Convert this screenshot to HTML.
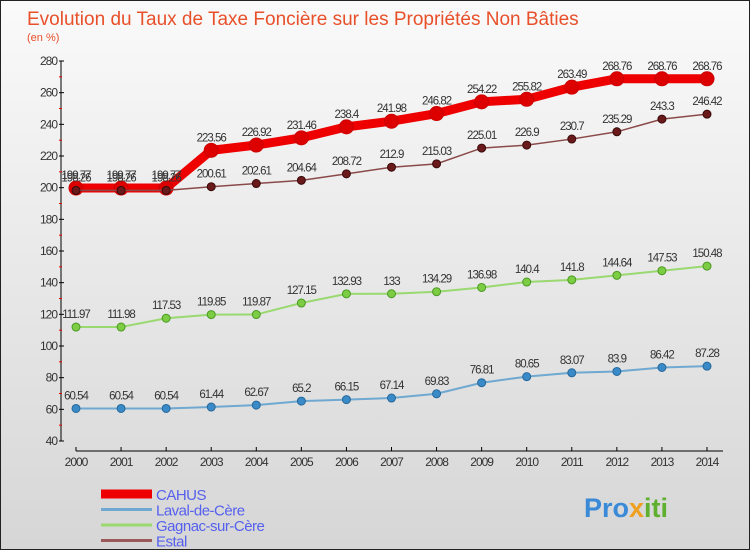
<!DOCTYPE html>
<html><head><meta charset="utf-8"><style>
body{margin:0}
#c{width:750px;height:550px;position:relative;background:linear-gradient(#fafafa,#d6d6d6);font-family:"Liberation Sans",sans-serif;overflow:hidden;box-sizing:border-box;border:1px solid #222}
</style></head><body>
<div id="c">
<svg id="s" width="750" height="550" xmlns="http://www.w3.org/2000/svg">
<text x="26" y="24" font-size="19" fill="#e8502a">Evolution du Taux de Taxe Foncière sur les Propriétés Non Bâties</text>
<text x="26" y="40" font-size="11" fill="#e8502a">(en %)</text>
<g id="axes"></g><g id="series"></g><g id="legend"></g>
<text x="583" y="516" font-size="27" font-weight="bold" fill="#3a8ad8">Pro<tspan fill="#f0a020">x</tspan><tspan fill="#60b030">iti</tspan></text>
</svg></div>
<script>
const years=[2000,2001,2002,2003,2004,2005,2006,2007,2008,2009,2010,2011,2012,2013,2014];
const yTicks=[40,60,80,100,120,140,160,180,200,220,240,260,280];
const cahus=[199.77,199.77,199.77,223.56,226.92,231.46,238.4,241.98,246.82,254.22,255.82,263.49,268.76,268.76,268.76];
const laval=[60.54,60.54,60.54,61.44,62.67,65.2,66.15,67.14,69.83,76.81,80.65,83.07,83.9,86.42,87.28];
const gagnac=[111.97,111.98,117.53,119.85,119.87,127.15,132.93,133,134.29,136.98,140.4,141.8,144.64,147.53,150.48];
const estal=[198.26,198.26,198.26,200.61,202.61,204.64,208.72,212.9,215.03,225.01,226.9,230.7,235.29,243.3,246.42];
const NS="http://www.w3.org/2000/svg";
const X=i=>75+i*(706-75)/14, Y=v=>440-(v-40)*380/240;
function el(t,a,p){const e=document.createElementNS(NS,t);for(const k in a)e.setAttribute(k,a[k]);p.appendChild(e);return e;}
const ax=document.getElementById('axes'),sg=document.getElementById('series'),lg=document.getElementById('legend');
let a=el('line',{x1:60,y1:60,x2:60,y2:440,stroke:'#000'},ax);


a=el('line',{x1:75,y1:450,x2:722,y2:450,stroke:'#000'},ax);


yTicks.forEach((v,i)=>{
 el('line',{x1:58,x2:63,y1:Y(v),y2:Y(v),stroke:'#000'},ax);
 if(i<yTicks.length-1)el('line',{x1:58,x2:61,y1:Y(v+10),y2:Y(v+10),stroke:'#e00'},ax);
 const t=el('text',{x:56,y:Y(v)+4,'font-size':12,'text-anchor':'end',fill:'#333','letter-spacing':'-1'},ax);t.textContent=v;
 
 
});
years.forEach((y,i)=>{
 el('line',{x1:X(i),x2:X(i),y1:446,y2:450,stroke:'#000'},ax);
 const t=el('text',{x:X(i),y:465,'font-size':12,'text-anchor':'middle',fill:'#333','letter-spacing':'-1'},ax);t.textContent=y;
 
 
});
function series(d,name,lc,lw,pc,pr,ps){
 const g=el('g',{},sg);
 
 
 const l=el('polyline',{points:d.map((v,i)=>X(i)+','+Y(v)).join(' '),fill:'none',stroke:lc,'stroke-width':lw},g);
 
 
 d.forEach((v,i)=>{
  const c=el('circle',{cx:X(i),cy:Y(v),r:pr,fill:pc,stroke:ps,'stroke-width':1},g);
  
  
  const t=el('text',{x:X(i),y:Y(v)-9,'font-size':11.5,'text-anchor':'middle',fill:'#333','letter-spacing':'-1'},g);t.textContent=v;
  
  
 });
}
series(laval,'laval-de-cere','#6fa8d0',2,'#3a8ac8',4,'#25689a');
series(gagnac,'gagnac-sur-cere','#9ad870',2,'#7ccc44',4,'#4a9a22');
series(cahus,'cahus','#ee0000',9,'#dd0000',7,'#c00');
series(estal,'estal','#8a4a4a',1.5,'#6a1a1a',4,'#3a0a0a');
[['CAHUS','#ee0000',9],['Laval-de-Cère','#6fa8d0',3],['Gagnac-sur-Cère','#9ad870',3],['Estal','#9a5a5a',3]].forEach((e,i)=>{
 const y=493+i*15.5;
 const l=el('line',{x1:100,x2:151,y1:y,y2:y,stroke:e[1],'stroke-width':e[2]},lg);
 
 
 const t=el('text',{x:155,y:y+6,'font-size':15,fill:'#5560ee','letter-spacing':'-0.5'},lg);t.textContent=e[0];
 
 
});
</script>
</body></html>
